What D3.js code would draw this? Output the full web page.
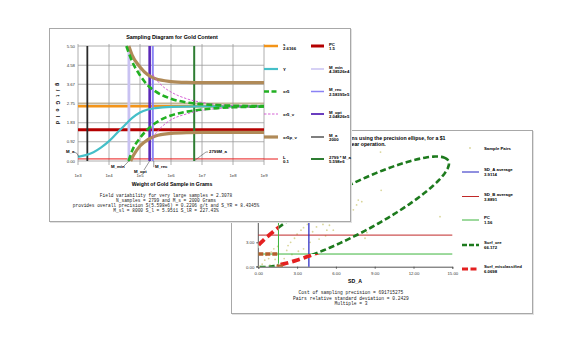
<!DOCTYPE html>
<html><head><meta charset="utf-8">
<script src="https://cdn.jsdelivr.net/npm/d3@7"></script>
<style>body{margin:0;background:#fff}svg{display:block}</style>
</head><body>
<svg id="c" width="580" height="343" font-family="Liberation Sans, Arial, sans-serif"></svg>
<script>
// ================= DATA: Sampling Diagram for Gold Content =================
const massTicks = [1e3, 1e4, 1e5, 1e6, 1e7, 1e8, 1e9];
const massTickLabels = ["1e3", "1e4", "1e5", "1e6", "1e7", "1e8", "1e9"];
const gradeTicks = [0, 0.92, 1.83, 2.75, 3.67, 4.58, 5.50];
const gradeTickLabels = ["0.00", "0.92", "1.83", "2.75", "3.67", "4.58", "5.50"];
const sValue = 2.6166, pcValue = 1.5, lValue = 0.1;
const massMarkers = [
  {name: "M_a", value: 2000},
  {name: "M_min", value: 4.38526e4},
  {name: "M_rec", value: 2.58395e5},
  {name: "M_opt", value: 2.04826e5},
  {name: "2799 * M_a", value: 5.598e6}
];
// curves: [mass in grams, grade g/t]
const curveY = [[1e3,0.20],[1.78e3,0.28],[3.16e3,0.42],[5.62e3,0.65],[1e4,0.95],[1.78e4,1.33],[3.16e4,1.70],[5.62e4,2.06],[1e5,2.32],[1.78e5,2.46],[3.16e5,2.53],[1e6,2.59],[1e7,2.61],[1e8,2.615],[1e9,2.616]];
const xr5Upper = [[3.63e4,5.5],[5.62e4,4.75],[1e5,4.10],[1.78e5,3.62],[3.16e5,3.33],[1e6,2.98],[3.16e6,2.80],[1e7,2.72],[3.16e7,2.67],[1e8,2.645],[1e9,2.625]];
const xr5Lower = [[4.27e4,0],[5.62e4,0.5],[1e5,1.10],[1.78e5,1.52],[3.16e5,1.82],[1e6,2.18],[3.16e6,2.36],[1e7,2.46],[3.16e7,2.53],[1e8,2.57],[1e9,2.605]];
const xr5vUpper = [[2.58e5,4.15],[3.16e5,3.95],[5.62e5,3.55],[1e6,3.30],[3.16e6,2.98],[1e7,2.80],[3.16e7,2.70],[1e8,2.66],[1e9,2.63]];
const xr5vLower = [[2.58e5,1.10],[3.16e5,1.30],[5.62e5,1.70],[1e6,1.97],[3.16e6,2.25],[1e7,2.42],[1e8,2.55],[1e9,2.60]];
const xr5pvUpper = [[4.37e4,5.5],[5.62e4,5.05],[1e5,4.50],[1.78e5,4.12],[3.16e5,3.93],[1e6,3.80],[3.16e6,3.76],[1e7,3.75],[1e9,3.75]];
const xr5pvLower = [[5.0e4,0],[6.3e4,0.30],[1e5,0.72],[1.78e5,1.02],[3.16e5,1.20],[1e6,1.32],[3.16e6,1.36],[1e7,1.37],[1e9,1.37]];
const legendLeft = [["s","2.6166"],["Y",""],["xr5",""],["xr5_v",""],["xr5p_v",""],["L","0.1"]];
const legendRight = [["PC","1.5"],["M_min","4.38526e4"],["M_rec","2.58395e5"],["M_opt","2.04826e5"],["M_a","2000"],["2799 * M_a","5.598e6"]];
const footerA = [
  "Field variability for very large samples = 2.3078",
  "N_samples = 2799 and M_s = 2000 Grams",
  "provides overall precision S(5.598e6) = 0.2206 g/t and S_YR = 8.4345%",
  "M_sl = 8000  S_l = 5.9511  S_lR = 227.43%"
];

// ================= DATA: precision ellipse chart =================
const sdTicks = [0, 3, 6, 9, 12, 15];
const sdTickLabels = ["0.00", "3.00", "6.00", "9.00", "12.00", "15.00"];
const sdVisibleYTicks = [0, 3];
const sdAAverage = 3.9114, sdBAverage = 3.8891, pcPairs = 1.56;
const ellipseCenter = [7.05, 6.75], ellipseRadii = [9.95, 2.55], ellipseAngleDeg = 41;
const samplePairs = [[0.1,0.05],[0.3,0.3],[0.5,0.8],[0.8,1.0],[0.9,0.2],[1.0,1.8],[1.2,2.2],[1.5,2.5],[1.8,0.5],[2.0,1.0],[2.2,2.0],[2.6,1.5],[2.5,3.0],[2.8,3.5],[3.0,4.0],[3.3,4.5],[3.5,2.2],[3.5,4.8],[3.8,5.2],[4.0,3.0],[4.2,4.3],[4.5,4.9],[5.0,5.2],[5.2,3.8],[5.3,4.5],[5.5,5.1],[5.8,4.5],[0.6,1.4],[1.3,0.9],[2.3,2.6],[3.1,1.9],[4.7,3.4],[6.3,6.0],[7.1,5.6],[7.35,7.0],[7.6,7.6],[7.73,8.2],[8.0,8.0],[8.25,3.5],[8.4,4.2],[9.45,14.1],[9.5,9.4],[14.05,6.15],[2.0,6.5],[3.0,7.5],[4.5,8.5],[5.5,6.8],[1.5,5.8],[6.2,9.0],[4.0,6.0]];
const legendPairs = [["Sample Pairs",""],["SD_A average","3.9114"],["SD_B average","3.8891"],["PC","1.56"],["Surf_ore","66.172"],["Surf_misclassified","6.0698"]];
const titleB = ["ns using the precision ellipse, for a $1", "ear operation."];
const footerB = ["Cost of sampling precision = 691715275", "Pairs relative standard deviation = 0.2429", "Multiple = 3"];

// ================= DRAW =================
const svg = d3.select("#c");
const MONO = "Liberation Mono, Courier New, monospace";
const SANS = "Liberation Sans, Arial, sans-serif";

// ---------- back window ----------
const B = svg.append("g");
B.append("rect").attr("x",232.5).attr("y",131.5).attr("width",301).attr("height",183).attr("fill","none").attr("stroke","#e2e2e2").attr("stroke-width",1);
B.append("rect").attr("x",231.5).attr("y",130.5).attr("width",301).attr("height",183).attr("fill","#fff").attr("stroke","#a8a8a8").attr("stroke-width",1);

const bx = d3.scaleLinear().domain([0,15]).range([258.3,452.3]);
const by = d3.scaleLinear().domain([0,15]).range([266.7,144.8]);

B.selectAll("text.bt").data(titleB).join("text")
  .attr("x",351.5).attr("y",(d,i)=>139.8+i*5.7)
  .attr("font-size",5.2).attr("font-weight","bold").text(d=>d);

// axes
const bxAxis = d3.axisBottom(bx).tickValues(sdTicks).tickFormat((d,i)=>sdTickLabels[i]).tickSize(2).tickPadding(3);
const gbx = B.append("g").attr("transform","translate(0,266.7)").call(bxAxis);
gbx.select(".domain").attr("stroke","#555");
gbx.selectAll(".tick line").attr("stroke","#555");
gbx.selectAll("text").attr("font-size",4.3).attr("fill","#333").attr("font-family",SANS);
const byAxis = d3.axisLeft(by).tickValues(sdVisibleYTicks).tickFormat((d,i)=>sdTickLabels[i]).tickSize(2).tickPadding(2);
const gby = B.append("g").attr("transform","translate(258.3,0)").call(byAxis);
gby.select(".domain").attr("stroke","#555").attr("d",`M-2,${by(0)}H0V${by(15)}`);
gby.selectAll(".tick line").attr("stroke","#555");
gby.selectAll("text").attr("font-size",4.3).attr("fill","#333").attr("font-family",SANS);
B.append("text").attr("x",355).attr("y",283).attr("text-anchor","middle").attr("font-size",5.2).attr("font-weight","bold").text("SD_A");

// sample pairs
B.selectAll("circle.sp").data(samplePairs).join("circle")
  .attr("cx",d=>bx(d[0])).attr("cy",d=>by(d[1])).attr("r",0.9).attr("fill","#d9d69a");

// reference lines
B.append("line").attr("x1",bx(0)).attr("x2",bx(15)).attr("y1",by(sdBAverage)).attr("y2",by(sdBAverage)).attr("stroke","#c02828").attr("stroke-width",1);
B.append("line").attr("x1",bx(0)).attr("x2",bx(15)).attr("y1",by(pcPairs)).attr("y2",by(pcPairs)).attr("stroke","#3cb43c").attr("stroke-width",1);
B.append("line").attr("x1",bx(pcPairs)).attr("x2",bx(pcPairs)).attr("y1",by(0)).attr("y2",by(15)).attr("stroke","#3cb43c").attr("stroke-width",1);
B.append("line").attr("x1",bx(sdAAverage)).attr("x2",bx(sdAAverage)).attr("y1",by(0)).attr("y2",by(15)).attr("stroke","#2020c0").attr("stroke-width",1.2);

// ellipse points (data space)
const th = ellipseAngleDeg*Math.PI/180;
const ell = d3.range(0,361,2).map(a=>{
  const t=a*Math.PI/180, u=ellipseRadii[0]*Math.cos(t), v=ellipseRadii[1]*Math.sin(t);
  return [ellipseCenter[0]+u*Math.cos(th)-v*Math.sin(th), ellipseCenter[1]+u*Math.sin(th)+v*Math.cos(th)];
});
const bline = d3.line().x(d=>bx(d[0])).y(d=>by(d[1]));
const defs = svg.append("defs");
defs.append("clipPath").attr("id","plotB").append("rect").attr("x",bx(0)).attr("y",by(15)).attr("width",bx(15)-bx(0)).attr("height",by(0)-by(15));
const mis = defs.append("clipPath").attr("id","misB");
mis.append("rect").attr("x",bx(0)).attr("y",by(15)).attr("width",bx(pcPairs)-bx(0)).attr("height",by(pcPairs)-by(15));
mis.append("rect").attr("x",bx(pcPairs)).attr("y",by(pcPairs)).attr("width",bx(15)-bx(pcPairs)).attr("height",by(0)-by(pcPairs));
B.append("path").attr("d",bline(ell)).attr("fill","none").attr("stroke","#1d7a1d").attr("stroke-width",2.6).attr("stroke-dasharray","6,3").attr("clip-path","url(#plotB)");
const gm = B.append("g").attr("clip-path","url(#plotB)");
gm.append("path").attr("d",bline(ell)).attr("fill","none").attr("stroke","#fff").attr("stroke-width",3.5).attr("clip-path","url(#misB)");
gm.append("path").attr("d",bline(ell)).attr("fill","none").attr("stroke","#e42020").attr("stroke-width",3.8).attr("stroke-dasharray","8,4").attr("clip-path","url(#misB)");
gm.append("path").attr("d",bline([[0,pcPairs],[pcPairs,pcPairs]])).attr("stroke","#b5602e").attr("stroke-width",3.5).attr("stroke-dasharray","5,2");
gm.append("path").attr("d",bline([[pcPairs-0.15,0.1],[pcPairs+0.35,0.1]])).attr("stroke","#b5602e").attr("stroke-width",3);

// back legend
const lgB = B.append("g");
legendPairs.forEach((d,i)=>{
  const y = [148,172,196.5,220,245,269][i];
  if(i===0){ lgB.append("circle").attr("cx",470).attr("cy",y).attr("r",0.9).attr("fill","#d9d69a"); }
  else {
    const st = [null,{c:"#2020c0",w:1,da:null},{c:"#c02828",w:1,da:null},{c:"#3cb43c",w:1,da:null},{c:"#1d7a1d",w:2.5,da:"5,2"},{c:"#e42020",w:3,da:"6,2.5"}][i];
    lgB.append("line").attr("x1",462).attr("x2",479).attr("y1",y).attr("y2",y).attr("stroke",st.c).attr("stroke-width",st.w).attr("stroke-dasharray",st.da);
  }
  lgB.append("text").attr("x",484).attr("y",d[1]?y-0.8:y+1.5).attr("font-size",4.3).attr("font-weight","bold").text(d[0]);
  if(d[1]) lgB.append("text").attr("x",484).attr("y",y+4.3).attr("font-size",4.3).attr("font-weight","bold").text(d[1]);
});
B.selectAll("text.fb").data(footerB).join("text").attr("x",351).attr("y",(d,i)=>294+i*5.6)
  .attr("text-anchor","middle").attr("font-size",4.6).attr("font-family",MONO).attr("fill","#222").text(d=>d);

// ---------- front window ----------
const F = svg.append("g");
F.append("rect").attr("x",50.5).attr("y",29.5).attr("width",301).attr("height",193).attr("fill","none").attr("stroke","#e2e2e2").attr("stroke-width",1);
F.append("rect").attr("x",49.5).attr("y",28.5).attr("width",301).attr("height",193).attr("fill","#fff").attr("stroke","#a8a8a8").attr("stroke-width",1);

const fx = d3.scaleLog().domain([1e3,1e9]).range([78,264]);
const fy = d3.scaleLinear().domain([0,5.5]).range([161,46]);

F.append("text").attr("x",172).attr("y",38.5).attr("text-anchor","middle").attr("font-size",5.4).attr("font-weight","bold").text("Sampling Diagram for Gold Content");

// grid
F.selectAll("line.hg").data(gradeTicks).join("line")
  .attr("x1",fx(1e3)).attr("x2",fx(1e9)).attr("y1",d=>fy(d)).attr("y2",d=>fy(d))
  .attr("stroke",d=>d===2.75?"#c4b596":"#9a9a9a").attr("stroke-width",d=>d===2.75?2:0.8);
F.selectAll("line.vg").data(massTicks).join("line")
  .attr("x1",d=>fx(d)).attr("x2",d=>fx(d)).attr("y1",fy(5.5)-2).attr("y2",fy(0)+4)
  .attr("stroke","#9a9a9a").attr("stroke-width",0.8);
F.selectAll("text.xt").data(massTicks).join("text")
  .attr("x",d=>fx(d)).attr("y",177).attr("text-anchor","middle").attr("font-size",4.3).attr("fill","#333").text((d,i)=>massTickLabels[i]);
F.selectAll("text.yt").data(gradeTicks).join("text")
  .attr("x",75).attr("y",d=>fy(d)+1.5).attr("text-anchor","end").attr("font-size",4.3).attr("fill","#333").text((d,i)=>gradeTickLabels[i]);
F.append("text").attr("x",172).attr("y",186).attr("text-anchor","middle").attr("font-size",5.2).attr("font-weight","bold").text("Weight of Gold Sample in Grams");
F.append("text").attr("transform","translate(56,104) rotate(90)").attr("text-anchor","middle").attr("font-size",5).attr("font-weight","bold").attr("letter-spacing",1.3).text("g / t    G o l d");

// horizontal reference lines
F.append("line").attr("x1",fx(1e3)).attr("x2",fx(1e9)).attr("y1",fy(lValue)).attr("y2",fy(lValue)).attr("stroke","#e81818").attr("stroke-width",1);
F.append("line").attr("x1",fx(1e3)).attr("x2",fx(1e9)).attr("y1",fy(pcValue)).attr("y2",fy(pcValue)).attr("stroke","#b40000").attr("stroke-width",3);
F.append("line").attr("x1",fx(1e3)).attr("x2",fx(1e9)).attr("y1",fy(sValue)).attr("y2",fy(sValue)).attr("stroke","#f39418").attr("stroke-width",2.5);

// vertical markers
const vStyle = {"M_a":["#2a2a2a",1.8],"M_min":["#c9c2f2",2.8],"M_rec":["#8a82f5",2],"M_opt":["#5a28b8",2.6],"2799 * M_a":["#2e7d32",2]};
F.selectAll("line.vm").data(massMarkers).join("line")
  .attr("x1",d=>fx(d.value)).attr("x2",d=>fx(d.value)).attr("y1",fy(5.5)).attr("y2",fy(0))
  .attr("stroke",d=>vStyle[d.name][0]).attr("stroke-width",d=>vStyle[d.name][1]);

// curves
const fline = d3.line().x(d=>fx(d[0])).y(d=>fy(d[1])).curve(d3.curveMonotoneX);
const cg = F.append("g");
[xr5pvUpper,xr5pvLower].forEach(c=>cg.append("path").attr("d",fline(c)).attr("fill","none").attr("stroke","#b08a58").attr("stroke-width",3.2));
cg.append("path").attr("d",fline(curveY)).attr("fill","none").attr("stroke","#45bfc8").attr("stroke-width",2.2);
[xr5vUpper,xr5vLower].forEach(c=>cg.append("path").attr("d",fline(c)).attr("fill","none").attr("stroke","#d050d0").attr("stroke-width",0.9).attr("stroke-dasharray","2.5,1.5"));
[xr5Upper,xr5Lower].forEach(c=>cg.append("path").attr("d",fline(c)).attr("fill","none").attr("stroke","#22b022").attr("stroke-width",2.6).attr("stroke-dasharray","6,3"));

// annotations
const ann = F.append("g").attr("font-size",4.3).attr("font-weight","bold");
ann.append("text").attr("x",66).attr("y",153).text("M_a");
ann.append("path").attr("d",`M74,152 Q77,152 ${fx(1e3)+1},${fy(0.2)}`).attr("fill","none").attr("stroke","#333").attr("stroke-width",0.5);
ann.append("text").attr("x",111).attr("y",168).text("M_min");
ann.append("path").attr("d",`M123,167 L${fx(4.38526e4)},${fy(0)}`).attr("fill","none").attr("stroke","#333").attr("stroke-width",0.5);
ann.append("text").attr("x",134).attr("y",172.5).text("M_opt");
ann.append("path").attr("d",`M144,170 L${fx(2.04826e5)},${fy(0)}`).attr("fill","none").attr("stroke","#333").attr("stroke-width",0.5);
ann.append("text").attr("x",155).attr("y",168).text("M_rec");
ann.append("path").attr("d",`M${fx(2.58395e5)+1},${fy(0)} L${fx(2.58395e5)+1},167 L154,167`).attr("fill","none").attr("stroke","#333").attr("stroke-width",0.5);
ann.append("text").attr("x",209).attr("y",153).text("2799M_a");
ann.append("path").attr("d",`M208,152 L206,152 L${fx(5.598e6)+1},${fy(0)-1}`).attr("fill","none").attr("stroke","#333").attr("stroke-width",0.5);

// front legend
const lgStyleL = [{c:"#f39418",w:2.5},{c:"#45bfc8",w:2.2},{c:"#22b022",w:2.6,da:"5,2.5"},{c:"#d050d0",w:0.9,da:"2.5,1.5"},{c:"#b08a58",w:3.2},{c:"#e81818",w:1}];
const lgStyleR = [{c:"#b40000",w:3},{c:"#c9c2f2",w:1.5},{c:"#8a82f5",w:1.5},{c:"#5a28b8",w:1.8},{c:"#555",w:1.5},{c:"#2e7d32",w:2}];
const rowsY = [46,69,91.5,114,137,159];
function legendCol(items, styles, x1, x2, tx){
  items.forEach((d,i)=>{
    const y=rowsY[i], st=styles[i];
    F.append("line").attr("x1",x1).attr("x2",x2).attr("y1",y).attr("y2",y).attr("stroke",st.c).attr("stroke-width",st.w).attr("stroke-dasharray",st.da||null);
    F.append("text").attr("x",tx).attr("y",d[1]?y-0.5:y+1.5).attr("font-size",4.3).attr("font-weight","bold").text(d[0]);
    if(d[1]) F.append("text").attr("x",tx).attr("y",y+4.3).attr("font-size",4.3).attr("font-weight","bold").text(d[1]);
  });
}
legendCol(legendLeft, lgStyleL, 264, 278, 283);
legendCol(legendRight, lgStyleR, 311, 324, 329);

F.selectAll("text.fa").data(footerA).join("text").attr("x",166).attr("y",(d,i)=>196.5+i*5.3)
  .attr("text-anchor","middle").attr("font-size",4.5).attr("font-family",MONO).attr("fill","#222").text(d=>d);
</script>
</body></html>
